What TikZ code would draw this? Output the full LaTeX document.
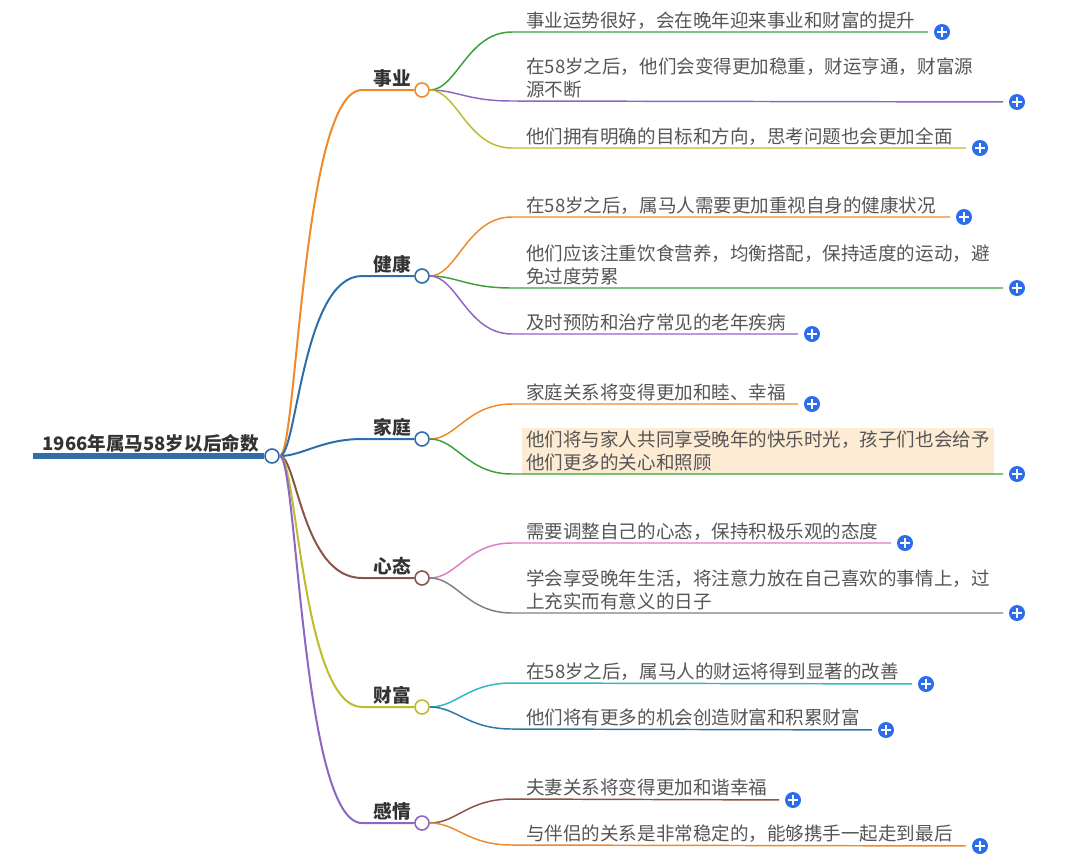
\documentclass[tikz,border=0pt]{standalone}
\usepackage{fontspec}
\setmainfont{Noto Sans CJK SC}
\usetikzlibrary{positioning}

\definecolor{cRoot}{HTML}{2F6EAB}
\definecolor{cOrange}{HTML}{F0892A}
\definecolor{cGreen}{HTML}{3A9F3A}
\definecolor{cPurple}{HTML}{8D66C4}
\definecolor{cOlive}{HTML}{BCBC2C}
\definecolor{cBrown}{HTML}{8A5547}
\definecolor{cPink}{HTML}{E07AC6}
\definecolor{cGray}{HTML}{7F7F7F}
\definecolor{cCyan}{HTML}{2EB6CA}
\definecolor{cTeal}{HTML}{2E74A4}
\definecolor{cPlus}{HTML}{2B6DEA}
\definecolor{cHigh}{HTML}{FDEBD3}
\definecolor{cText}{HTML}{555555}
\definecolor{cLabel}{HTML}{333333}

\begin{document}
\begin{tikzpicture}[
  x=0.75pt, y=-0.75pt,
  hub/.style={circle, draw, fill=white, line width=1.2pt,
              minimum size=10.5pt, inner sep=0pt},
  branch/.style={line width=1.5pt},
  twig/.style={line width=1.1pt},
  toplabel/.style={anchor=south east, inner sep=2pt, text=cLabel,
                   font=\fontsize{14}{16}\selectfont\bfseries},
  leaf/.style={anchor=south west, align=left, inner xsep=3pt,
               inner ysep=2pt, text=cText,
               font=\fontsize{13.9}{17}\selectfont},
  plusbtn/.style={circle, fill=cPlus, minimum size=12pt, inner sep=0pt,
                  outer sep=4.5pt,
                  path picture={\draw[white, line width=1.3pt]
                    ([xshift=-3.4pt]path picture bounding box.center) --
                    ([xshift=3.4pt]path picture bounding box.center)
                    ([yshift=-3.4pt]path picture bounding box.center) --
                    ([yshift=3.4pt]path picture bounding box.center);}},
]
\useasboundingbox (0,0) rectangle (1084,861);

% ── Root ──────────────────────────────────────────────────────────────────────
\coordinate (start) at (33,456);
\node[hub, draw=cRoot] (root) at (272,456) {};
\draw[cRoot, line width=3.8pt] (start) -- (root);
\node[toplabel, font=\fontsize{13.9}{16}\selectfont\bfseries]
  (title) at ([xshift=-2pt, yshift=0.8pt]root.west) {1966年属马58岁以后命数};

% ── Main topics ───────────────────────────────────────────────────────────────
\node[hub, draw=cOrange] (m1) at (422,90)  {};
\node[hub, draw=cRoot]   (m2) at (422,276) {};
\node[hub, draw=cRoot]   (m3) at (422,439) {};
\node[hub, draw=cBrown]  (m4) at (422,578) {};
\node[hub, draw=cOlive]  (m5) at (422,707) {};
\node[hub, draw=cPurple] (m6) at (422,823) {};

\node[toplabel] (t1) at (m1.west) {事业};
\node[toplabel] (t2) at (m2.west) {健康};
\node[toplabel] (t3) at (m3.west) {家庭};
\node[toplabel] (t4) at (m4.west) {心态};
\node[toplabel] (t5) at (m5.west) {财富};
\node[toplabel] (t6) at (m6.west) {感情};

\draw[branch, cOrange] (root) .. controls +(25,0) and +(-60,0) .. ([xshift=-45pt]m1.center) -- (m1);
\draw[branch, cRoot]   (root) .. controls +(25,0) and +(-60,0) .. ([xshift=-45pt]m2.center) -- (m2);
\draw[branch, cRoot]   (root) .. controls +(30,0) and +(-40,0) .. ([xshift=-45pt]m3.center) -- (m3);
\draw[branch, cBrown]  (root) .. controls +(25,0) and +(-60,0) .. ([xshift=-45pt]m4.center) -- (m4);
\draw[branch, cOlive]  (root) .. controls +(25,0) and +(-60,0) .. ([xshift=-45pt]m5.center) -- (m5);
\draw[branch, cPurple] (root) .. controls +(25,0) and +(-60,0) .. ([xshift=-45pt]m6.center) -- (m6);

% ── 事业 leaves ───────────────────────────────────────────────────────────────
\node[leaf] (l11) at (522,32)  {事业运势很好，会在晚年迎来事业和财富的提升};
\node[leaf] (l12) at (522,101) {在58岁之后，他们会变得更加稳重，财运亨通，财富源\\源不断};
\node[leaf] (l13) at (522,148) {他们拥有明确的目标和方向，思考问题也会更加全面};
\node[plusbtn] (p11) at (942,32)  {};
\node[plusbtn] (p12) at (1017,102) {};
\node[plusbtn] (p13) at (980,148) {};
\draw[twig, cGreen]  (m1) .. controls +(35,0) and +(-45,0) .. ([xshift=-7.5pt]l11.south west) -- (p11);
\draw[twig, cPurple] (m1) .. controls +(35,0) and +(-45,0) .. ([xshift=-7.5pt]l12.south west) -- (p12);
\draw[twig, cOlive]  (m1) .. controls +(35,0) and +(-45,0) .. ([xshift=-7.5pt]l13.south west) -- (p13);

% ── 健康 leaves ───────────────────────────────────────────────────────────────
\node[leaf] (l21) at (522,217) {在58岁之后，属马人需要更加重视自身的健康状况};
\node[leaf] (l22) at (522,288) {他们应该注重饮食营养，均衡搭配，保持适度的运动，避\\免过度劳累};
\node[leaf] (l23) at (522,334) {及时预防和治疗常见的老年疾病};
\node[plusbtn] (p21) at (964,217) {};
\node[plusbtn] (p22) at (1017,288) {};
\node[plusbtn] (p23) at (812,334) {};
\draw[twig, cOrange] (m2) .. controls +(35,0) and +(-45,0) .. ([xshift=-7.5pt]l21.south west) -- (p21);
\draw[twig, cGreen]  (m2) .. controls +(35,0) and +(-45,0) .. ([xshift=-7.5pt]l22.south west) -- (p22);
\draw[twig, cPurple] (m2) .. controls +(35,0) and +(-45,0) .. ([xshift=-7.5pt]l23.south west) -- (p23);

% ── 家庭 leaves ───────────────────────────────────────────────────────────────
\node[leaf] (l31) at (522,404) {家庭关系将变得更加和睦、幸福};
\node[leaf, fill=cHigh] (l32) at (522,474) {他们将与家人共同享受晚年的快乐时光，孩子们也会给予\\他们更多的关心和照顾};
\node[plusbtn] (p31) at (812,404) {};
\node[plusbtn] (p32) at (1017,474) {};
\draw[twig, cOrange] (m3) .. controls +(35,0) and +(-45,0) .. ([xshift=-7.5pt]l31.south west) -- (p31);
\draw[twig, cGreen]  (m3) .. controls +(35,0) and +(-45,0) .. ([xshift=-7.5pt]l32.south west) -- (p32);

% ── 心态 leaves ───────────────────────────────────────────────────────────────
\node[leaf] (l41) at (522,543) {需要调整自己的心态，保持积极乐观的态度};
\node[leaf] (l42) at (522,613) {学会享受晚年生活，将注意力放在自己喜欢的事情上，过\\上充实而有意义的日子};
\node[plusbtn] (p41) at (905,543) {};
\node[plusbtn] (p42) at (1017,613) {};
\draw[twig, cPink] (m4) .. controls +(35,0) and +(-45,0) .. ([xshift=-7.5pt]l41.south west) -- (p41);
\draw[twig, cGray] (m4) .. controls +(35,0) and +(-45,0) .. ([xshift=-7.5pt]l42.south west) -- (p42);

% ── 财富 leaves ───────────────────────────────────────────────────────────────
\node[leaf] (l51) at (522,683) {在58岁之后，属马人的财运将得到显著的改善};
\node[leaf] (l52) at (522,729) {他们将有更多的机会创造财富和积累财富};
\node[plusbtn] (p51) at (926,684) {};
\node[plusbtn] (p52) at (886,730) {};
\draw[twig, cCyan] (m5) .. controls +(35,0) and +(-45,0) .. ([xshift=-7.5pt]l51.south west) -- (p51);
\draw[twig, cTeal] (m5) .. controls +(35,0) and +(-45,0) .. ([xshift=-7.5pt]l52.south west) -- (p52);

% ── 感情 leaves ───────────────────────────────────────────────────────────────
\node[leaf] (l61) at (522,799) {夫妻关系将变得更加和谐幸福};
\node[leaf] (l62) at (522,845) {与伴侣的关系是非常稳定的，能够携手一起走到最后};
\node[plusbtn] (p61) at (793,800) {};
\node[plusbtn] (p62) at (980,846) {};
\draw[twig, cBrown]  (m6) .. controls +(35,0) and +(-45,0) .. ([xshift=-7.5pt]l61.south west) -- (p61);
\draw[twig, cOrange] (m6) .. controls +(35,0) and +(-45,0) .. ([xshift=-7.5pt]l62.south west) -- (p62);

\end{tikzpicture}
\end{document}
